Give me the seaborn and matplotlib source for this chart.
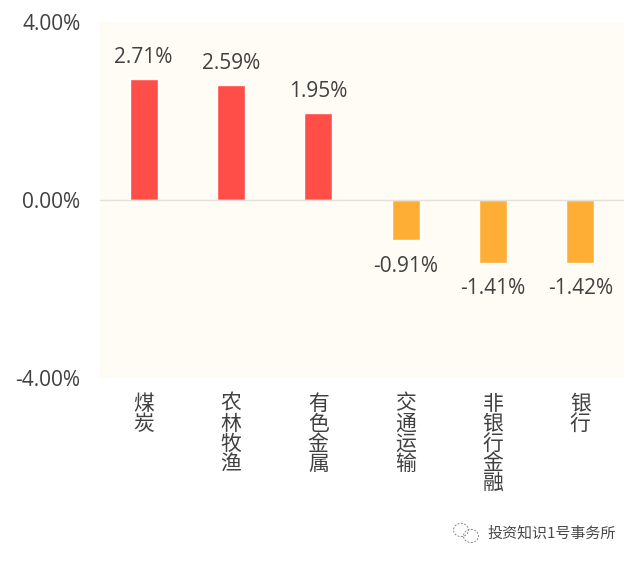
import pandas as pd
import matplotlib.pyplot as plt
import seaborn as sns
from matplotlib.patches import Circle

categories = ["煤炭", "农林牧渔", "有色金属", "交通运输", "非银行金融", "银行"]
changes = [2.71, 2.59, 1.95, -0.91, -1.41, -1.42]
y_ticks = [-4, 0, 4]
y_tick_labels = ["-4.00%", "0.00%", "4.00%"]

RED = "#ff4d47"
ORANGE = "#ffae35"
TEXT = "#404040"

sns.set_theme(style="white")
plt.rcParams['font.family'] = ['Open Sans', 'Noto Sans CJK SC', 'DejaVu Sans']

df = pd.DataFrame({"category": categories, "change": changes})
df["sign"] = ["up" if v > 0 else "down" for v in changes]

fig = plt.figure(figsize=(6.35, 5.61), dpi=100, facecolor="white")
ax = fig.add_axes([100 / 635, 1 - 378 / 561, 524 / 635, 356 / 561])
ax.set_facecolor("#fffcf5")

sns.barplot(data=df, x="category", y="change", hue="sign", dodge=False, legend=False,
            palette={"up": RED, "down": ORANGE}, width=0.32, saturation=1, ax=ax)

# negative labels sit a bit further from the bar
for container, pad in zip(ax.containers, [8, 11]):
    ax.bar_label(container, labels=[f"{v:.2f}%" for v in container.datavalues],
                 padding=pad, fontsize=15, color=TEXT)

ax.set_xlim(-0.5, 5.5)
ax.set_ylim(-4, 4)
ax.axhline(0, color="#e4dfdc", lw=1, zorder=1)
sns.despine(ax=ax, left=True, bottom=True)

ax.set_yticks(y_ticks, y_tick_labels, fontsize=15, color=TEXT)
ax.set_xticks(range(len(categories)), ["\n".join(c) for c in categories], fontsize=15,
              color=TEXT, linespacing=0.88, va="top", family=['Noto Sans CJK SC', 'DejaVu Sans'])
ax.tick_params(axis="x", length=0, pad=10.5)
ax.tick_params(axis="y", length=0, pad=14)
ax.set_xlabel("")
ax.set_ylabel("")

# watermark, bottom right
fig.text(487 / 635, 1 - 533 / 561, "投资知识1号事务所", fontsize=10.8, color="#484848", va="center",
         family=['Noto Sans CJK SC', 'DejaVu Sans'])
for cx, cy, r in [(461, 530, 7.5), (471, 536, 7.5)]:
    fig.add_artist(Circle((cx / 635, 1 - cy / 561), r / 635, transform=fig.transFigure, fill=False,
                          ec="#8a8a8a", lw=0.7, ls=(0, (2, 1.5))))

fig.savefig("out.png", dpi=100)
